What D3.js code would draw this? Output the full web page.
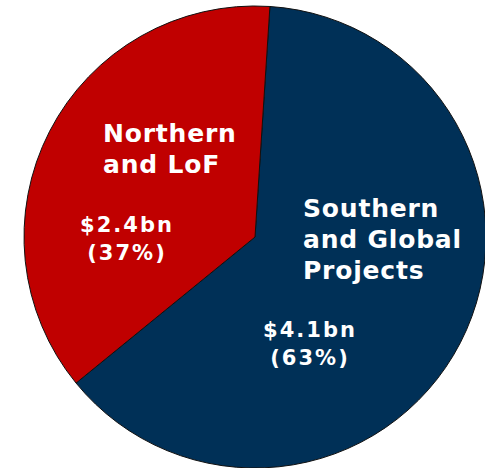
<!DOCTYPE html>
<html lang="en">
<head>
    <meta charset="UTF-8"/>
    <title>Pie chart</title>
    <script src="https://d3js.org/d3.v7.min.js"></script>
    <style>
        body { margin: 0; background: #fff; }
        svg text { font-family: "DejaVu Sans", Verdana, sans-serif; font-weight: bold; fill: #fff; }
        .name { font-size: 25px; letter-spacing: 0.8px; }
        .val { font-size: 21px; letter-spacing: 2px; }
    </style>
</head>
<body>
    <script>
        var w = 485;
        var h = 468;

        // data
        var categories = ["Southern and Global Projects", "Northern and LoF"];
        var nameLines = [["Southern", "and Global", "Projects"], ["Northern", "and LoF"]];
        var values = [4.1, 2.4];
        var valueLabels = ["$4.1bn", "$2.4bn"];
        var pctLabels = ["(63%)", "(37%)"];
        var colors = ["#003057", "#c00000"];

        var cx = 255, cy = 237, r = 231;
        var start = 3.7 * Math.PI / 180;

        // label placement relative to centre (name block left aligned, value block centred)
        var nameAt = [[48, -20], [-152, -95]];
        var valueAt = [[55, 100], [-128, -5]];
        var nameLH = 31, valueLH = 28;

        var svg = d3.select("body")
                    .append("svg")
                    .attr("width", w)
                    .attr("height", h);

        var g = svg.append("g")
            .attr("transform", "translate(" + cx + "," + cy + ")");

        var pie = d3.pie()
            .sort(null)
            .startAngle(start)
            .endAngle(start + 2 * Math.PI);

        var arc = d3.arc().innerRadius(0).outerRadius(r);

        var arcs = pie(values);

        g.selectAll("path")
            .data(arcs)
            .enter()
            .append("path")
            .attr("d", arc)
            .attr("fill", (d, i) => colors[i])
            .attr("stroke", "#111")
            .attr("stroke-width", 1);

        // === LABELS ===
        arcs.forEach(function (d, i) {
            var t = g.append("text")
                .attr("class", "name")
                .attr("text-anchor", "start");
            nameLines[i].forEach(function (line, j) {
                t.append("tspan")
                    .attr("x", nameAt[i][0])
                    .attr("y", nameAt[i][1] + j * nameLH)
                    .text(line);
            });

            var v = g.append("text")
                .attr("class", "val")
                .attr("text-anchor", "middle");
            [valueLabels[i], pctLabels[i]].forEach(function (line, j) {
                v.append("tspan")
                    .attr("x", valueAt[i][0])
                    .attr("y", valueAt[i][1] + j * valueLH)
                    .text(line);
            });
        });
    </script>
</body>
</html>
